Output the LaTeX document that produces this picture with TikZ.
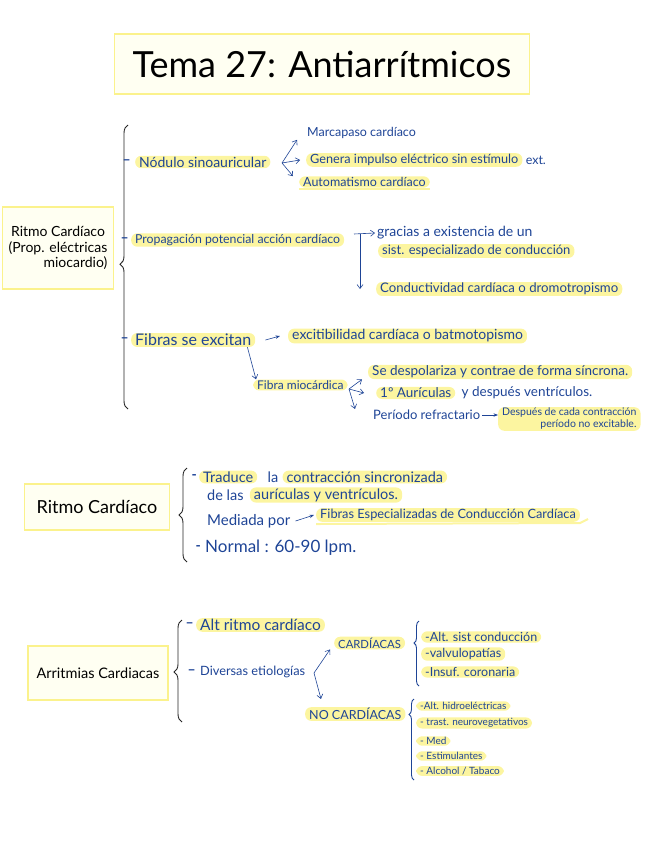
\documentclass[tikz,border=0pt]{standalone}
\usepackage{fontspec}
\setmainfont{Lato}
\usepackage{tikz}
\usetikzlibrary{arrows.meta,positioning,decorations.pathreplacing}
\definecolor{ink}{HTML}{1E4496}
\definecolor{hly}{HTML}{FCF5A0}
\definecolor{boxfill}{HTML}{FFFFF2}
\definecolor{boxline}{HTML}{FBF28C}
\tikzset{
  txt/.style={text=ink, anchor=west, inner xsep=2pt, inner ysep=1pt, font=\fontsize{12.5}{15}\selectfont},
  sml/.style={txt, font=\fontsize{10}{12}\selectfont},
  dsh/.style={txt, font=\fontsize{14}{16}\selectfont\bfseries},
  hl/.style={fill=hly, rounded corners=6pt, inner xsep=4pt},
  topic/.style={draw=boxline, line width=1.3pt, fill=boxfill, align=center, text=black},
  arr/.style={-{Straight Barb[length=4pt,width=6pt]}, ink, semithick},
  arrs/.style={-{Stealth[length=4.5pt]}, ink, semithick},
  brc/.style={decorate, decoration={brace, amplitude=8pt}, line width=0.9pt, black!85},
  brcb/.style={brc, ink, decoration={amplitude=5pt}},
}
\begin{document}
\begin{tikzpicture}[x=1pt, y=-1pt]
\useasboundingbox (0,0) rectangle (655,848);

\node[topic, minimum width=415pt, minimum height=60pt, font=\fontsize{36}{40}\selectfont] (title) at (322,64) {Tema 27: Antiarrítmicos};

% ritmo cardiaco, propiedades
\node[topic, minimum width=111pt, minimum height=82pt, inner xsep=1pt, font=\fontsize{14}{15.5}\selectfont] (rc1) at (58,248) {Ritmo Cardíaco\\(Prop. eléctricas\\\hfill miocardio)};
\coordinate (b1a) at (128,409);
\coordinate (b1b) at (128,125);
\draw[brc, decoration={aspect=0.51}] (b1a) -- (b1b);

\node[txt, hl, font=\fontsize{14}{16}\selectfont] (nod) at (135,162) {Nódulo sinoauricular};
\node[dsh, left=2pt of nod] (d1) {–};
\coordinate (f1) at (282,163);
\node[txt] (mar) at (305,133) {Marcapaso cardíaco};
\node[txt, hl, font=\fontsize{12.7}{15}\selectfont] (gen) at (306,160) {Genera impulso eléctrico sin estímulo};
\node[txt, right=1pt of gen] (ext) {ext.};
\node[txt, hl] (aut) at (299,182) {Automatismo cardíaco};
\draw[hly, line width=2pt] ([yshift=-1pt]aut.south west) -- ([yshift=-1pt]aut.south east);
\draw[arr] (f1) -- ([xshift=-8pt]mar.south west);
\draw[arr] (f1) -- ([xshift=-6pt]gen.west);
\draw[arr] (f1) -- ([xshift=-6pt]aut.north west);

\node[txt, hl, font=\fontsize{12.3}{15}\selectfont] (prop) at (131,240) {Propagación potencial acción cardíaco};
\node[dsh, left=0pt of prop] (d2) {–};
\coordinate (p1) at (360,234);
\node[txt, font=\fontsize{14}{16}\selectfont] (gra) at (375,233) {gracias a existencia de un};
\node[txt, hl, font=\fontsize{13}{15}\selectfont] (sis) at (378,251) {sist. especializado de conducción};
\node[txt, hl, font=\fontsize{13.2}{15}\selectfont] (con) at (376,289) {Conductividad cardíaca o dromotropismo};
\draw[arr] ([xshift=-6pt]p1) -- (gra.west);
\draw[arr] (p1) -- (p1 |- con.west);

\node[txt, hl, font=\fontsize{16}{18}\selectfont] (fib) at (131,340) {Fibras se excitan};
\node[dsh, left=0pt of fib] (d3) {–};
\node[txt, hl, font=\fontsize{14}{16}\selectfont] (exc) at (288,336) {excitibilidad cardíaca o batmotopismo};
\draw[arrs] ([xshift=10pt]fib.east) -- ([xshift=-8pt]exc.west);
\node[txt, hl, font=\fontsize{12}{14}\selectfont] (fmi) at (253,385) {Fibra miocárdica};
\draw[arr] ([xshift=-8pt]fib.south east) -- ([xshift=3pt]fmi.north west);
\coordinate (f2) at (349,389);
\node[txt, hl, font=\fontsize{13.5}{16}\selectfont] (des) at (368,372) {Se despolariza y contrae de forma síncrona.};
\node[txt, hl, font=\fontsize{13.5}{16}\selectfont] (aur) at (376,393) {1º Aurículas};
\node[txt, font=\fontsize{13.5}{16}\selectfont, right=4pt of aur] (ven) {y después ventrículos.};
\node[txt, font=\fontsize{13}{15}\selectfont] (per) at (371,415) {Período refractario};
\node[txt, hl, align=right, font=\fontsize{10.5}{12}\selectfont] (dsp) at (498,419) {Después de cada contracción\\período no excitable.};
\draw[arr] (f2) -- ([xshift=-6pt]des.south west);
\draw[arr] (f2) -- ([xshift=-12pt]aur.west);
\draw[arr] (f2) -- ([xshift=-16pt]per.north west);
\draw[arrs] (per.east) -- ([yshift=4pt]dsp.west);

% ritmo cardiaco
\node[topic, minimum width=145pt, minimum height=46pt, font=\fontsize{18}{20}\selectfont] (rc2) at (97,507) {Ritmo Cardíaco};
\coordinate (b2a) at (187,562);
\coordinate (b2b) at (187,468);
\draw[brc, decoration={aspect=0.5}] (b2a) -- (b2b);
\node[txt, hl, font=\fontsize{14.5}{17}\selectfont] (tra) at (199,477) {Traduce};
\node[dsh, left=0pt of tra] (d4) {-};
\node[txt, font=\fontsize{14.5}{17}\selectfont, right=8pt of tra] (tla) {la};
\node[txt, hl, font=\fontsize{14.5}{17}\selectfont, right=2pt of tla] (tcs) {contracción sincronizada};
\node[txt, font=\fontsize{14.5}{17}\selectfont] (tdl) at (205,495) {de las};
\node[txt, hl, font=\fontsize{14.5}{17}\selectfont, right=4pt of tdl] (tav) {aurículas y ventrículos.};
\node[txt, font=\fontsize{15}{17}\selectfont] (med) at (205,521) {Mediada por};
\node[txt, hl, font=\fontsize{12.8}{15}\selectfont] (fec) at (316,515) {Fibras Especializadas de Conducción Cardíaca};
\draw[arrs] ([xshift=3pt]med.east) -- ([xshift=-2pt]fec.west);
\draw[hly, line width=2pt] ([yshift=-2pt]fec.south west) -- ([yshift=-1pt]fec.south east) -- ([xshift=8pt,yshift=3pt]fec.south east);
\node[txt, font=\fontsize{17}{19}\selectfont] (nor) at (203,548) {Normal : 60-90 lpm.};
\node[dsh, left=0pt of nor] (d5) {-};

% arritmias
\node[topic, minimum width=140pt, minimum height=54pt, font=\fontsize{14.5}{17}\selectfont] (arr3) at (98,673) {Arritmias Cardiacas};
\coordinate (b3a) at (182,722);
\coordinate (b3b) at (182,620);
\draw[brc, decoration={aspect=0.49}] (b3a) -- (b3b);
\node[txt, hl, font=\fontsize{15.5}{18}\selectfont] (alt) at (196,625) {Alt ritmo cardíaco};
\node[dsh, left=0pt of alt] (d6) {–};
\node[txt, font=\fontsize{12.8}{15}\selectfont] (div) at (198,672) {Diversas etiologías};
\node[dsh, left=0pt of div] (d7) {–};
\coordinate (f3) at (314,673);
\node[txt, hl, font=\fontsize{11.3}{13}\selectfont] (car) at (334,643) {CARDÍACAS};
\node[txt, hl, font=\fontsize{12.5}{14}\selectfont] (nca) at (305,714) {NO CARDÍACAS};
\draw[arr] (f3) -- ([xshift=-4pt]car.south west);
\draw[arr] (f3) -- ([xshift=16pt,yshift=8pt]nca.north west);

\coordinate (b4a) at (419,686);
\coordinate (b4b) at (419,621);
\draw[brcb, decoration={aspect=0.66}] (b4a) -- (b4b);
\node[txt, hl] (c1) at (421,637) {-Alt. sist conducción};
\node[txt, hl] (c2) at (421,654) {-valvulopatías};
\node[txt, hl] (c3) at (421,672) {-Insuf. coronaria};

\coordinate (b5a) at (414,780);
\coordinate (b5b) at (414,699);
\draw[brcb, decoration={aspect=0.81}] (b5a) -- (b5b);
\node[sml, hl] (n1) at (416,706) {-Alt. hidroeléctricas};
\node[sml, hl] (n2) at (416,723) {- trast. neurovegetativos};
\node[sml, hl] (n3) at (416,741) {- Med};
\node[sml, hl] (n4) at (416,756) {- Estimulantes};
\node[sml, hl] (n5) at (416,771) {- Alcohol / Tabaco};
\end{tikzpicture}
\end{document}
